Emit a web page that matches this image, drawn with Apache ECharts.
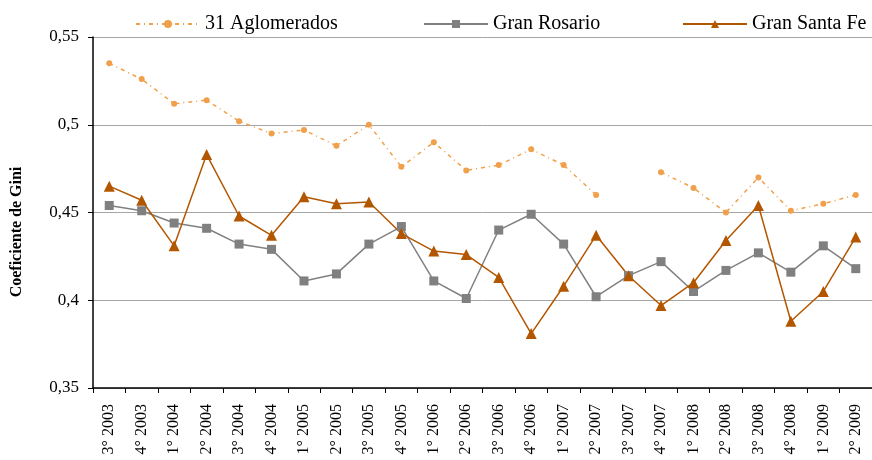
<!DOCTYPE html>
<html>
<head>
<meta charset="utf-8">
<script src="https://cdn.jsdelivr.net/npm/echarts@6/dist/echarts.min.js"></script>
<style>
  html, body { margin: 0; padding: 0; background: #fff; }
  #chart { width: 872px; height: 460px; }
</style>
</head>
<body>
<div id="chart"></div>
<script>
// trimestres
const categories = [
  "3° 2003", "4° 2003", "1° 2004", "2° 2004", "3° 2004", "4° 2004",
  "1° 2005", "2° 2005", "3° 2005", "4° 2005", "1° 2006", "2° 2006",
  "3° 2006", "4° 2006", "1° 2007", "2° 2007", "3° 2007", "4° 2007",
  "1° 2008", "2° 2008", "3° 2008", "4° 2008", "1° 2009", "2° 2009"
];
const aglomerados = [
  0.535, 0.526, 0.512, 0.514, 0.502, 0.495,
  0.497, 0.488, 0.500, 0.476, 0.490, 0.474,
  0.477, 0.486, 0.477, 0.460, null, 0.473,
  0.464, 0.450, 0.470, 0.451, 0.455, 0.460
];
const granRosario = [
  0.454, 0.451, 0.444, 0.441, 0.432, 0.429,
  0.411, 0.415, 0.432, 0.442, 0.411, 0.401,
  0.440, 0.449, 0.432, 0.402, 0.414, 0.422,
  0.405, 0.417, 0.427, 0.416, 0.431, 0.418
];
const granSantaFe = [
  0.465, 0.457, 0.431, 0.483, 0.448, 0.437,
  0.459, 0.455, 0.456, 0.438, 0.428, 0.426,
  0.413, 0.381, 0.408, 0.437, 0.414, 0.397,
  0.410, 0.434, 0.454, 0.388, 0.405, 0.436
];

const serif = "Liberation Serif";
const chart = echarts.init(document.getElementById("chart"));

const legendBase = {
  top: 9,
  itemWidth: 64,
  itemHeight: 10,
  itemGap: 0,
  selectedMode: false,
  textStyle: { fontFamily: serif, fontSize: 20, color: "#000" },
};

const option = {
  animation: false,
  textStyle: { fontFamily: serif },
  legend: [
    Object.assign({}, legendBase, { left: 130, data: ["31 Aglomerados"] }),
    Object.assign({}, legendBase, { left: 418, data: ["Gran Rosario"] }),
    Object.assign({}, legendBase, { left: 677, data: ["Gran Santa Fe"] }),
  ],
  // eje vertical: texto aparte para ubicarlo igual que el original
  graphic: [
    {
      type: "text",
      x: 17,
      y: 232,
      rotation: Math.PI / 2,
      style: {
        text: "Coeficiente de Gini",
        font: "bold 16px 'Liberation Serif'",
        fill: "#000",
        align: "center",
        verticalAlign: "middle",
      },
    },
  ],
  grid: { left: 93, top: 37, bottom: 72, right: -6, containLabel: false },
  xAxis: {
    type: "category",
    data: categories,
    boundaryGap: true,
    axisLine: { lineStyle: { color: "#000", width: 1.5 } },
    axisTick: { show: true, length: 5, lineStyle: { color: "#000" } },
    axisLabel: {
      rotate: 90,
      interval: 0,
      margin: 16,
      fontFamily: serif,
      fontSize: 16,
      color: "#000",
    },
  },
  yAxis: {
    type: "value",
    min: 0.35,
    max: 0.55,
    interval: 0.05,
    axisLine: { show: true, lineStyle: { color: "#000", width: 1.5 } },
    axisTick: { show: true, length: 5, lineStyle: { color: "#000" } },
    axisLabel: {
      fontFamily: serif,
      fontSize: 17,
      color: "#000",
      margin: 14,
      formatter: (v) => String(Math.round(v * 100) / 100).replace(".", ","),
    },
    splitLine: { lineStyle: { color: "#a6a6a6", width: 1 } },
  },
  series: [
    {
      name: "31 Aglomerados",
      type: "line",
      data: aglomerados,
      connectNulls: false,
      symbol: "circle",
      symbolSize: 6,
      color: "#f0a04b",
      lineStyle: { color: "#f0a04b", width: 1.5, type: [4, 4, 1, 4] },
      itemStyle: { color: "#f0a04b" },
    },
    {
      name: "Gran Rosario",
      type: "line",
      data: granRosario,
      symbol: "rect",
      symbolSize: 9,
      color: "#808080",
      lineStyle: { color: "#808080", width: 1.5 },
      itemStyle: { color: "#808080" },
    },
    {
      name: "Gran Santa Fe",
      type: "line",
      data: granSantaFe,
      symbol: "triangle",
      symbolSize: 11,
      color: "#b35600",
      lineStyle: { color: "#b35600", width: 1.5 },
      itemStyle: { color: "#b35600" },
    },
  ],
};

chart.setOption(option);
</script>
</body>
</html>
